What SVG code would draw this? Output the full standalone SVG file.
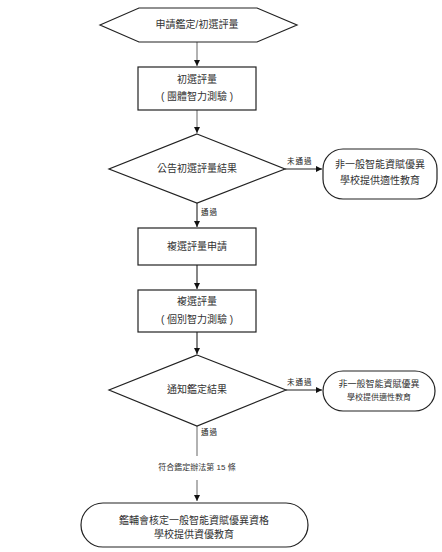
<svg xmlns="http://www.w3.org/2000/svg" width="442" height="552" viewBox="0 0 442 552">
<defs>
<style>
.shape{fill:#fff;stroke:#222;stroke-width:1.2}
.t{font-family:"Liberation Sans","Noto Sans CJK TC",sans-serif;font-size:10px;fill:#333;text-anchor:middle;dominant-baseline:middle}
.lbl{font-family:"Noto Sans CJK TC","Liberation Serif",serif;font-size:7.5px;fill:#222;letter-spacing:1px;dominant-baseline:middle}
.g{stroke:#999;stroke-width:1.5;fill:none}
.k{stroke:#222;stroke-width:1.1;fill:none}
</style>
<marker id="ah" viewBox="0 0 10 10" refX="10" refY="5" markerWidth="6" markerHeight="6" orient="auto" markerUnits="userSpaceOnUse"><path d="M0,0 L10,5 L0,10 z" fill="#111"/></marker>
</defs>
<rect width="442" height="552" fill="#fff"/>
<g id="connectors">
<line class="g" x1="197" y1="42" x2="197" y2="66" marker-end="url(#ah)"/>
<line class="g" x1="197" y1="110" x2="197" y2="133" marker-end="url(#ah)"/>
<line class="k" x1="285" y1="169" x2="322" y2="169" marker-end="url(#ah)"/>
<line class="k" x1="197" y1="203" x2="197" y2="227" marker-end="url(#ah)"/>
<line class="k" x1="197" y1="265" x2="197" y2="289" marker-end="url(#ah)"/>
<line class="k" x1="197" y1="332" x2="197" y2="354" marker-end="url(#ah)"/>
<line class="k" x1="286" y1="390" x2="322" y2="390" marker-end="url(#ah)"/>
<line class="g" x1="197" y1="426" x2="197" y2="456"/>
<line class="g" x1="197" y1="480" x2="197" y2="501" marker-end="url(#ah)"/>
<text class="lbl" x="287" y="162">未通過</text>
<text class="lbl" x="201" y="213">通過</text>
<text class="lbl" x="287" y="383">未通過</text>
<text class="lbl" x="201" y="433">通過</text>
<text class="t" x="197" y="468" style="font-size:8px">符合鑑定辦法第 15 條</text>
</g>
<g id="start">
<polygon class="shape" points="100,25 139,8 257,8 297,25 257,42 139,42"/>
<text class="t" x="197" y="25">申請鑑定/初選評量</text>
</g>
<g id="box1">
<rect class="shape" x="138" y="67" width="118" height="43"/>
<text class="t" x="197" y="80">初選評量</text>
<text class="t" x="197" y="97">( 團體智力測驗 )</text>
</g>
<g id="dec1">
<polygon class="shape" points="197,134 285,169 197,203 109,169"/>
<text class="t" x="197" y="169">公告初選評量結果</text>
</g>
<g id="alt1">
<rect class="shape" x="323" y="149" width="114" height="50" rx="20" ry="20"/>
<text class="t" x="380" y="165">非一般智能資賦優異</text>
<text class="t" x="380" y="181">學校提供適性教育</text>
</g>
<g id="box2">
<rect class="shape" x="138" y="228" width="118" height="37"/>
<text class="t" x="197" y="247">複選評量申請</text>
</g>
<g id="box3">
<rect class="shape" x="138" y="290" width="118" height="42"/>
<text class="t" x="197" y="302">複選評量</text>
<text class="t" x="197" y="320">( 個別智力測驗 )</text>
</g>
<g id="dec2">
<polygon class="shape" points="197,355 286,390 197,426 109,390"/>
<text class="t" x="197" y="390">通知鑑定結果</text>
</g>
<g id="alt2">
<rect class="shape" x="323" y="371" width="112" height="40" rx="20" ry="20"/>
<text class="t" x="379" y="385" style="font-size:9px">非一般智能資賦優異</text>
<text class="t" x="379" y="398" style="font-size:8px">學校提供適性教育</text>
</g>
<g id="end">
<rect class="shape" x="81" y="503" width="227" height="44" rx="22" ry="22"/>
<text class="t" x="194" y="521">鑑輔會核定一般智能資賦優異資格</text>
<text class="t" x="194" y="535">學校提供資優教育</text>
</g>
</svg>
